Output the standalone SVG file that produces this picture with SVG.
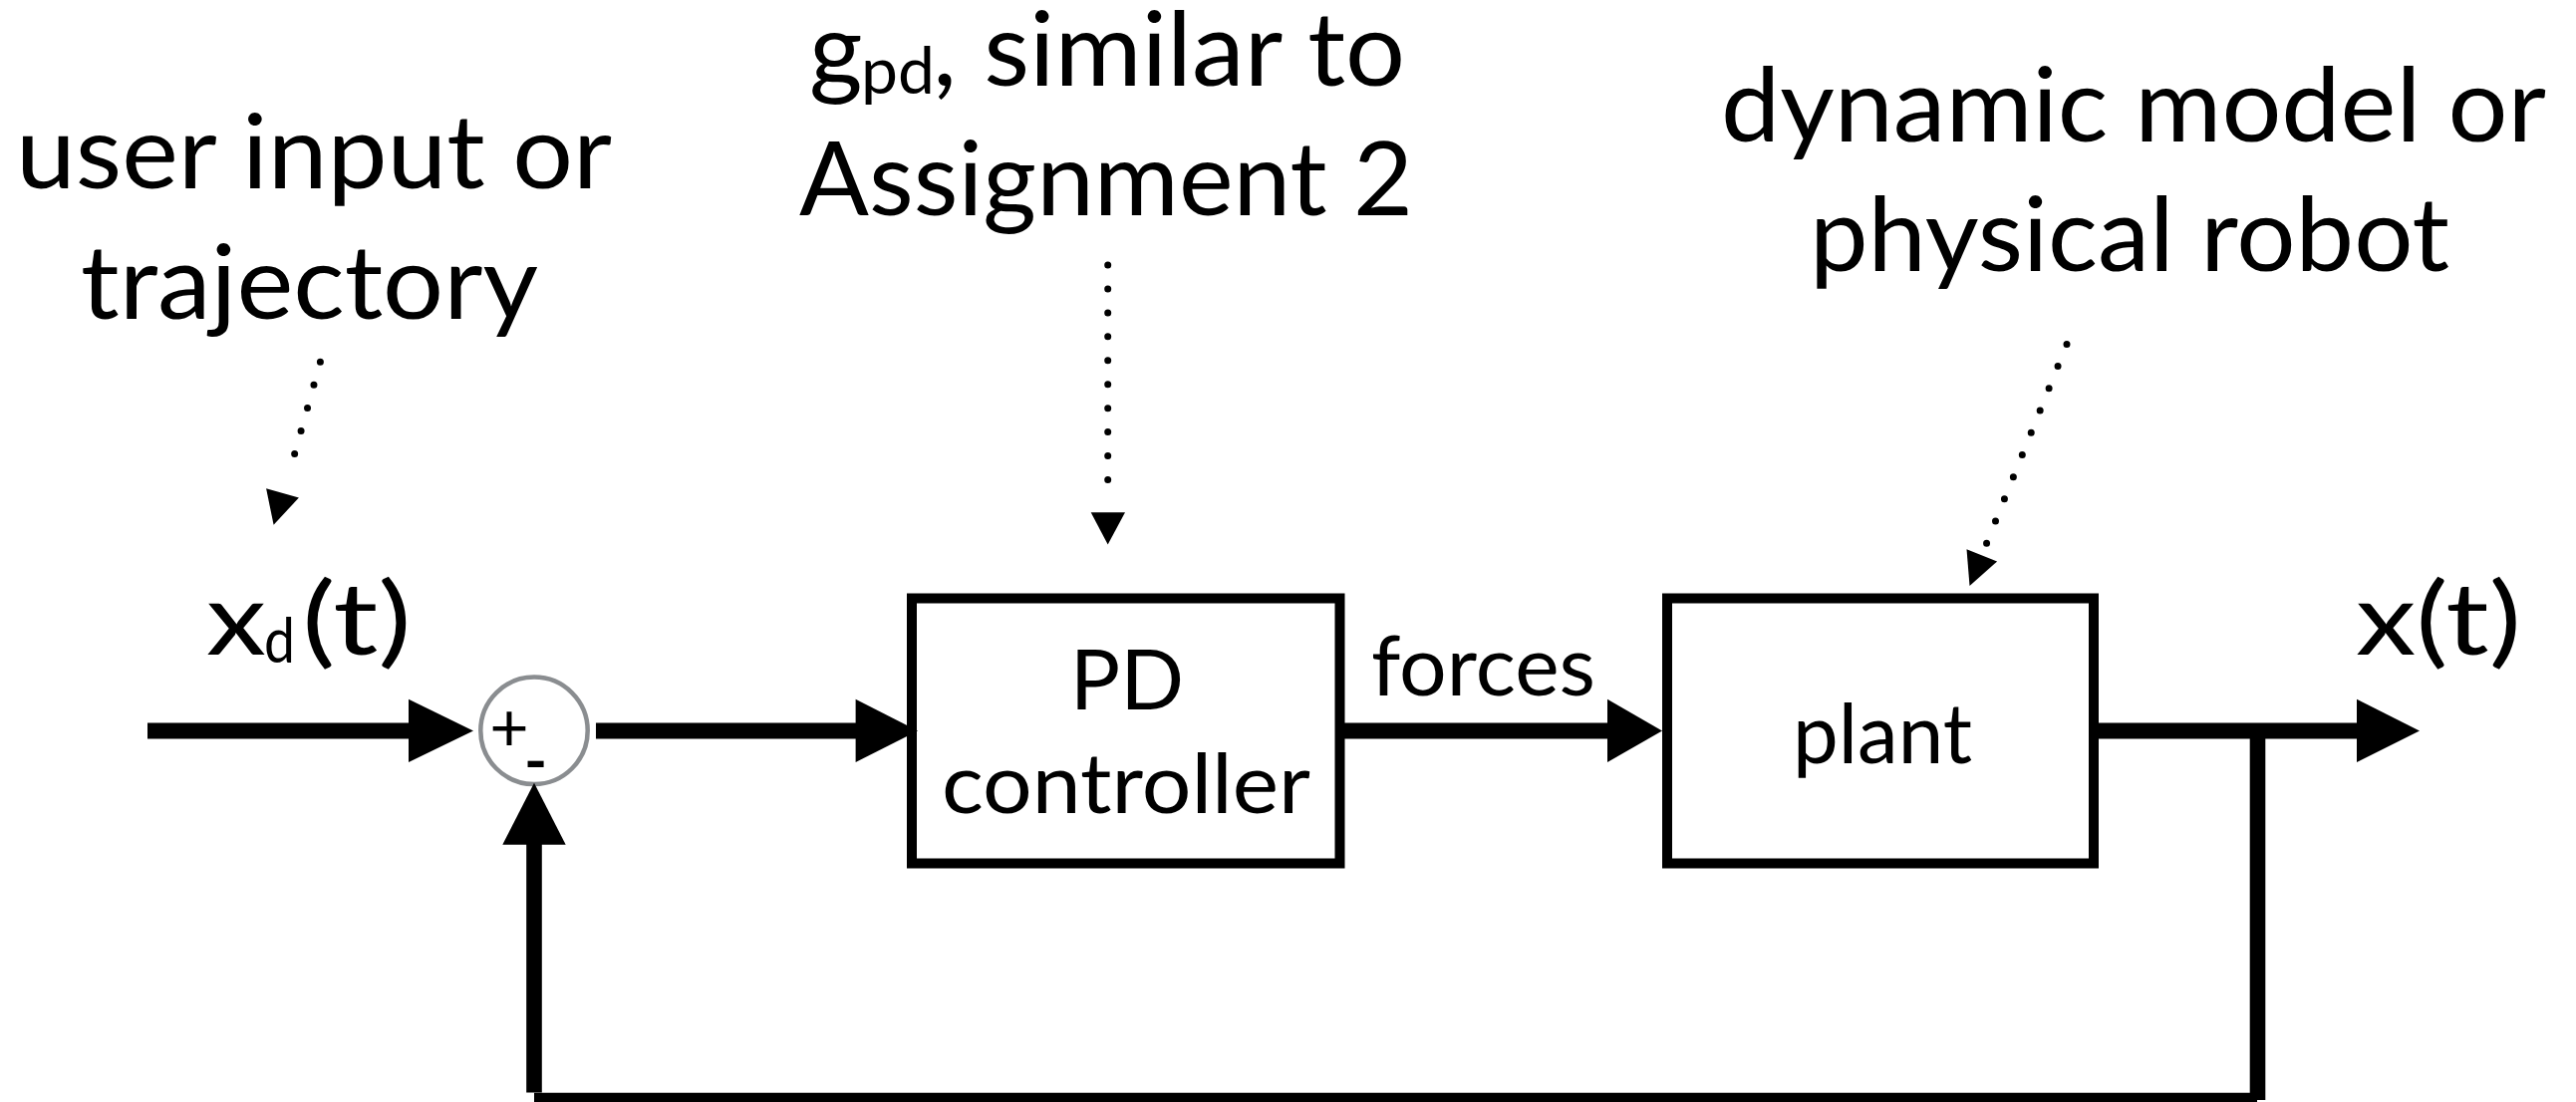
<svg xmlns="http://www.w3.org/2000/svg" width="2585" height="1106" viewBox="0 0 2585 1106">
<style>
.lbl{font-family:Lato,"Open Sans","Liberation Sans",sans-serif;fill:#000}
.big{font-size:103px}
.box{font-size:84px}
.wire{stroke:#000;stroke-width:16;fill:none;stroke-linecap:butt}
.fb{stroke:#000;stroke-width:15.6;fill:none;stroke-linecap:butt}
.dot{stroke:#000;stroke-width:7;stroke-linecap:round;stroke-dasharray:0 23.94;fill:none}
.head{fill:#000}
.blk{fill:#fff;stroke:#000;stroke-width:10}
</style>
<rect width="2585" height="1106" fill="#fff"/>

<g id="label-user">
<text class="lbl big" x="16" y="189.3" textLength="598" lengthAdjust="spacingAndGlyphs">user input or</text>
<text class="lbl big" x="81" y="320" textLength="459" lengthAdjust="spacingAndGlyphs">trajectory</text>
</g>
<g id="label-gpd">
<text class="lbl big" y="86"><tspan x="812">g</tspan><tspan x="864" dy="8" font-size="66">pd</tspan><tspan x="936" dy="-8" textLength="474" lengthAdjust="spacingAndGlyphs">, similar to</tspan></text>
<text class="lbl big" x="802" y="216" textLength="616" lengthAdjust="spacingAndGlyphs">Assignment 2</text>
</g>
<g id="label-plant">
<text class="lbl big" x="1727" y="141.7" textLength="828" lengthAdjust="spacingAndGlyphs">dynamic model or</text>
<text class="lbl big" x="1816" y="272" textLength="642" lengthAdjust="spacingAndGlyphs">physical robot</text>
</g>

<g id="xd">
<text class="lbl" font-size="100" y="656.7"><tspan x="207" textLength="60" lengthAdjust="spacingAndGlyphs">x</tspan><tspan x="265" dy="8" font-size="62" textLength="31" lengthAdjust="spacingAndGlyphs">d</tspan><tspan x="303" dy="-8" textLength="110" lengthAdjust="spacingAndGlyphs">(t)</tspan></text>
</g>
<g id="xt">
<text class="lbl" font-size="100" x="2364" y="656.7" textLength="166" lengthAdjust="spacingAndGlyphs">x(t)</text>
</g>

<g id="sum">
<circle cx="536" cy="733.3" r="53.7" fill="#fff" stroke="#8a8d90" stroke-width="4.5"/>
<text class="lbl" font-size="68" x="511" y="754" text-anchor="middle">+</text>
<text class="lbl" font-size="62" font-weight="bold" x="537.5" y="785" text-anchor="middle">-</text>
</g>

<g id="pd-controller">
<rect class="blk" x="915" y="600.5" width="429.5" height="266"/>
<text class="lbl box" x="1131" y="712.3" text-anchor="middle">PD</text>
<text class="lbl box" x="1130" y="816" text-anchor="middle" textLength="370" lengthAdjust="spacingAndGlyphs">controller</text>
</g>

<g id="plant">
<rect class="blk" x="1673" y="600.5" width="428" height="266"/>
<text class="lbl box" x="1889" y="766" text-anchor="middle" textLength="180" lengthAdjust="spacingAndGlyphs">plant</text>
</g>

<g id="connectors">
<line class="wire" x1="148" y1="733.5" x2="411" y2="733.5"/>
<polygon class="head" points="410,701.7 475,733.5 410,765"/>
<line class="wire" x1="598" y1="733.5" x2="860" y2="733.5"/>
<polygon class="head" points="858.6,701.7 921,733.5 858.6,765"/>
<line class="wire" x1="1349" y1="733.5" x2="1614" y2="733.5"/>
<polygon class="head" points="1613,701.7 1668,733.5 1613,765"/>
<text class="lbl box" x="1376" y="698.3" textLength="225" lengthAdjust="spacingAndGlyphs">forces</text>
<line class="wire" x1="2106" y1="733.5" x2="2366" y2="733.5"/>
<polygon class="head" points="2365,701.7 2428,733.5 2365,765"/>
<line class="fb" x1="2265.5" y1="741" x2="2265.5" y2="1104"/>
<line class="fb" x1="2265" y1="1104.5" x2="536" y2="1104.5"/>
<line class="fb" x1="536" y1="1096.5" x2="536" y2="846"/>
<polygon class="head" points="504.3,847.7 567.7,847.7 536,785.7"/>
<line class="dot" x1="321.4" y1="363.3" x2="289.3" y2="478.3"/>
<polygon class="head" points="274.6,526.7 267.1,490.3 299.9,499.5"/>
<line class="dot" x1="1111.7" y1="266" x2="1111.7" y2="505.4"/>
<polygon class="head" points="1094.7,514.3 1129,514.3 1111.7,546.4"/>
<line class="dot" x1="2074" y1="345.4" x2="1993.5" y2="545.4"/>
<polygon class="head" points="1976.5,588 1973.5,551.2 2004.1,563.6"/>
</g>
</svg>
